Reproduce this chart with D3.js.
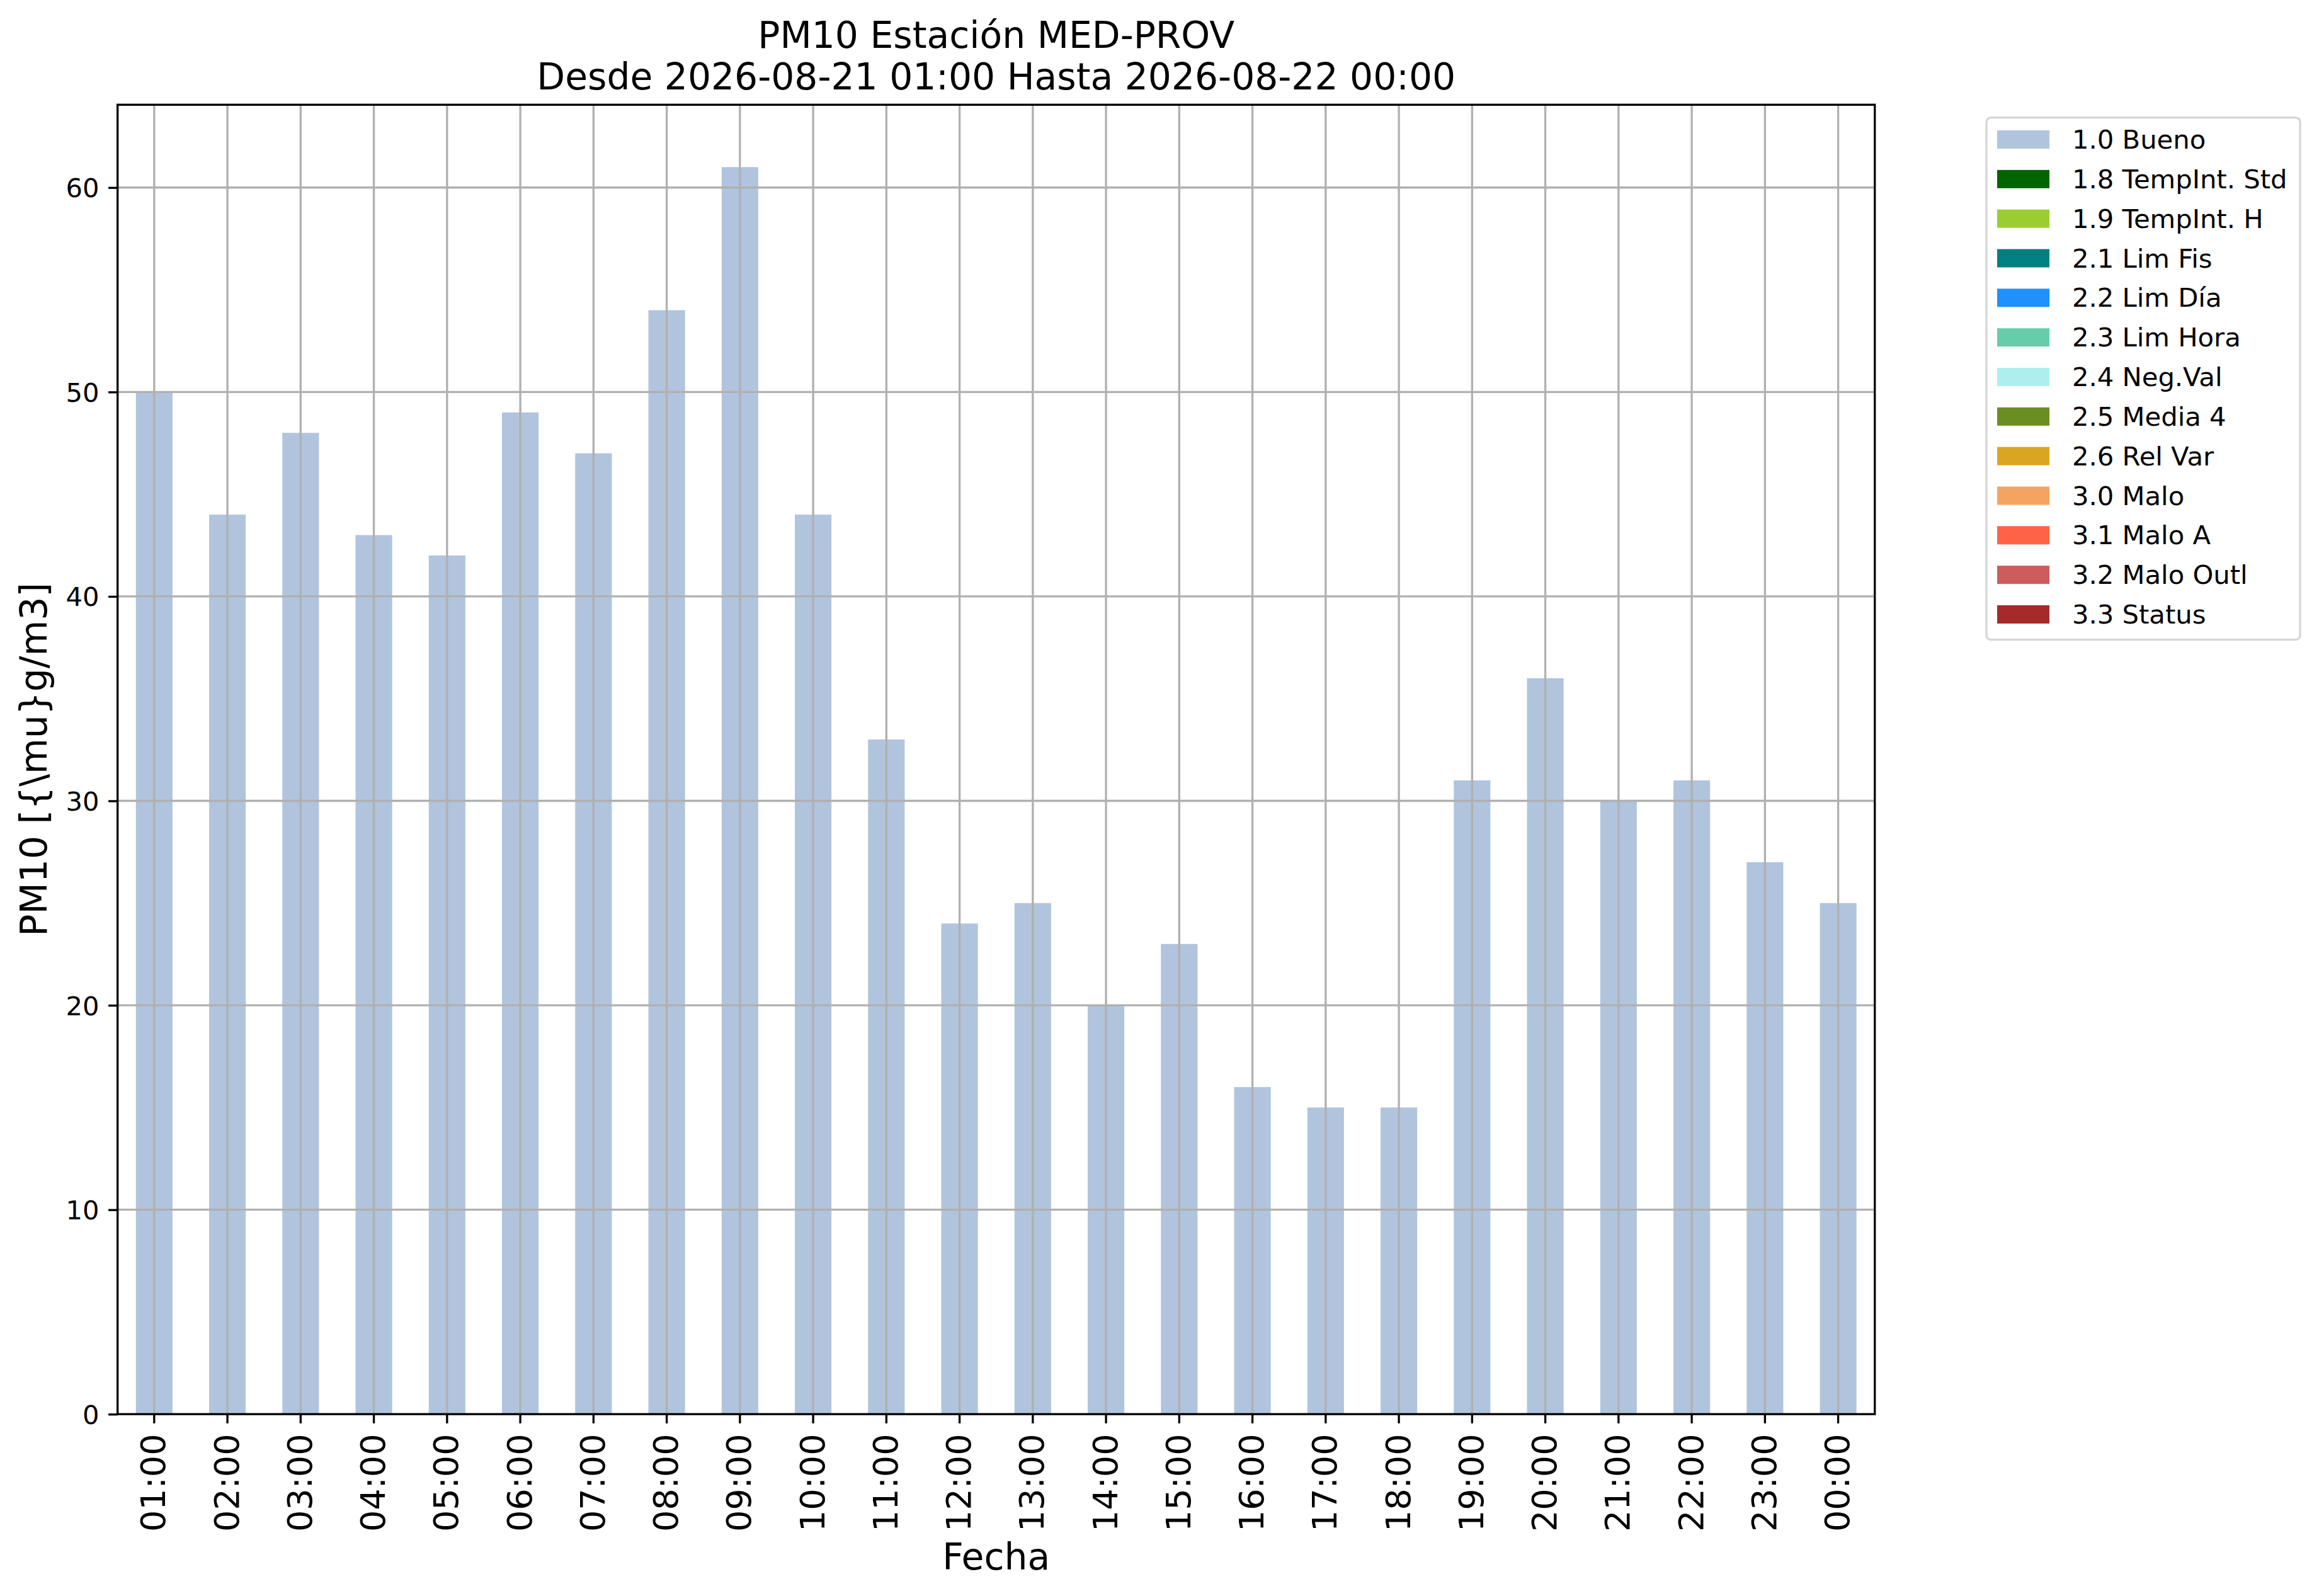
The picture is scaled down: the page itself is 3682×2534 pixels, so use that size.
<!DOCTYPE html>
<html>
<head>
<meta charset="utf-8">
<script src="https://cdn.jsdelivr.net/npm/d3@7"></script>
<style>
  html, body { margin: 0; padding: 0; background: #ffffff; }
  svg { display: block; font-family: "DejaVu Sans", sans-serif; }
</style>
</head>
<body>
<svg id="chart" width="3682" height="2534"></svg>
<script>
// ---- data ----
const categories = ["01:00","02:00","03:00","04:00","05:00","06:00","07:00","08:00","09:00","10:00","11:00","12:00",
                    "13:00","14:00","15:00","16:00","17:00","18:00","19:00","20:00","21:00","22:00","23:00","00:00"];
const buenoValues = [50,44,48,43,42,49,47,54,61,44,33,24,25,20,23,16,15,15,31,36,30,31,27,25];
const yTicks = [0,10,20,30,40,50,60];
const legendLabels = ["1.0 Bueno","1.8 TempInt. Std","1.9 TempInt. H","2.1 Lim Fis","2.2 Lim Día","2.3 Lim Hora",
                      "2.4 Neg.Val","2.5 Media 4","2.6 Rel Var","3.0 Malo","3.1 Malo A","3.2 Malo Outl","3.3 Status"];
const legendColors = ["#b0c4de","#006400","#9acd32","#008080","#1e90ff","#66cdaa",
                      "#afeeee","#6b8e23","#daa520","#f4a460","#ff6347","#cd5c5c","#a52a2a"];
const titleLines = ["PM10 Estación MED-PROV","Desde 2026-08-21 01:00 Hasta 2026-08-22 00:00"];
const xLabel = "Fecha";
const yLabel = "PM10 [{\\mu}g/m3]";

(function () {
// ---- layout ----
const pL = 186.7, pR = 2976.7, pT = 166.3, pB = 2245.3;
const lw = 3.33, tickLen = 14.6, pad = 14.6;
const svg = d3.select("#chart");

const x = d3.scaleBand().domain(categories).range([pL, pR]).paddingInner(0.5).paddingOuter(0.25);
const y = d3.scaleLinear().domain([0, d3.max(buenoValues) * 1.05]).range([pB, pT]);

// bars
svg.append("g").selectAll("rect").data(buenoValues).join("rect")
  .attr("x", (d, i) => x(categories[i]))
  .attr("width", x.bandwidth())
  .attr("y", d => y(d))
  .attr("height", d => pB - y(d))
  .attr("fill", legendColors[0]);

// grid
const grid = svg.append("g").attr("stroke", "#b0b0b0").attr("stroke-width", lw);
grid.selectAll("line.v").data(categories).join("line").attr("class", "v")
  .attr("x1", d => x(d) + x.bandwidth() / 2).attr("x2", d => x(d) + x.bandwidth() / 2)
  .attr("y1", pT).attr("y2", pB);
grid.selectAll("line.h").data(yTicks).join("line").attr("class", "h")
  .attr("x1", pL).attr("x2", pR)
  .attr("y1", d => y(d)).attr("y2", d => y(d));

// x axis
const xAxis = d3.axisBottom(x).tickSize(tickLen).tickPadding(pad);
const gx = svg.append("g").attr("transform", `translate(0,${pB})`).call(xAxis);
gx.select(".domain").remove();
gx.selectAll(".tick line").attr("stroke", "#000").attr("stroke-width", lw);
gx.selectAll(".tick text")
  .attr("font-size", 54).attr("fill", "#000")
  .attr("font-family", "DejaVu Sans")
  .attr("transform", `rotate(-90)`)
  .attr("x", -(tickLen + pad + 2)).attr("y", -2)
  .attr("dy", "0.36em")
  .attr("text-anchor", "end");

// y axis
const yAxis = d3.axisLeft(y).tickValues(yTicks).tickSize(tickLen).tickPadding(pad).tickFormat(d3.format("d"));
const gy = svg.append("g").attr("transform", `translate(${pL},0)`).call(yAxis);
gy.select(".domain").remove();
gy.selectAll(".tick line").attr("stroke", "#000").attr("stroke-width", lw);
gy.selectAll(".tick text").attr("font-size", 41.7).attr("fill", "#000").attr("font-family", "DejaVu Sans").attr("dy", "0.36em");

// spines
svg.append("rect").attr("x", pL).attr("y", pT).attr("width", pR - pL).attr("height", pB - pT)
  .attr("fill", "none").attr("stroke", "#000").attr("stroke-width", lw);

// title
svg.append("g").selectAll("text").data(titleLines).join("text")
  .attr("x", (pL + pR) / 2)
  .attr("y", (d, i) => 76 + i * 66)
  .attr("text-anchor", "middle").attr("font-size", 58.3).attr("fill", "#000")
  .text(d => d);

// axis labels
svg.append("text").attr("x", (pL + pR) / 2).attr("y", 2491.7)
  .attr("text-anchor", "middle").attr("font-size", 58.3).attr("fill", "#000").text(xLabel);
svg.append("text").attr("transform", `translate(74,${(pT + pB) / 2}) rotate(-90)`)
  .attr("text-anchor", "middle").attr("font-size", 58.3).attr("fill", "#000").text(yLabel);

// legend
const lx = 3154, ly = 186.7, lwid = 498, lht = 829;
const legRow = d3.scaleLinear().domain([0, legendLabels.length - 1]).range([207, 961]);
const lg = svg.append("g");
lg.append("rect").attr("x", lx).attr("y", ly).attr("width", lwid).attr("height", lht)
  .attr("rx", 7).attr("fill", "#ffffff").attr("fill-opacity", 0.8)
  .attr("stroke", "#d6d6d6").attr("stroke-width", lw);
const items = lg.selectAll("g.item").data(legendLabels).join("g").attr("class", "item");
items.append("rect").attr("x", 3171).attr("y", (d, i) => legRow(i)).attr("width", 83).attr("height", 29)
  .attr("fill", (d, i) => legendColors[i]);
items.append("text").attr("x", 3290).attr("y", (d, i) => legRow(i) + 29)
  .attr("font-size", 41.7).attr("fill", "#000").text(d => d);
})();
</script>
</body>
</html>
